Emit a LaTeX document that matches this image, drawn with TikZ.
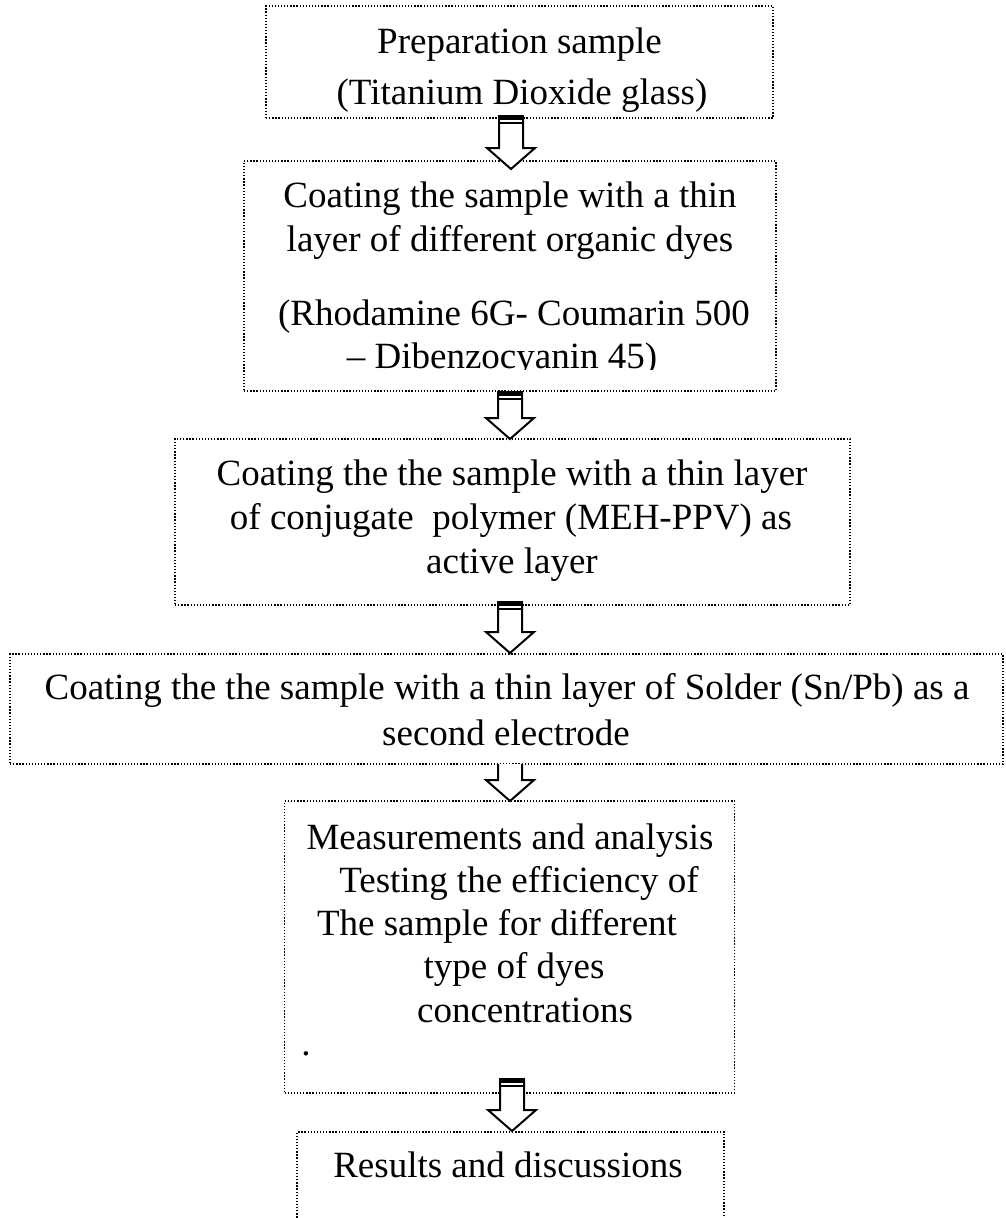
\documentclass[tikz,border=0pt]{standalone}
\usepackage{fontspec}
\setmainfont{Liberation Serif}
\begin{document}
\begin{tikzpicture}[x=1pt,y=-1pt,
  box/.style={draw=black, line width=1.3pt, dash pattern=on 1.3pt off 1.8pt, inner sep=0pt, fill=none},
  txt/.style={anchor=base, inner sep=0pt, font=\fontsize{37}{44}\selectfont},
  arrowline/.style={draw=black, line width=2pt, line join=miter, fill=white}]
\useasboundingbox (0,0) rectangle (1006,1218);
\newcommand{\barrow}[3]{% #1 x, #2 top, #3 tip
  \path[arrowline] (#1-12,#2) -- (#1-12,#3-21) -- (#1-24,#3-21) -- (#1,#3) -- (#1+24,#3-21) -- (#1+12,#3-21) -- (#1+12,#2);
  \fill[black] (#1-13,#2-1) rectangle (#1+13,#2+4);
  \draw[line width=2pt] (#1-12,#2+6.5) -- (#1+12,#2+6.5);
}
% boxes
\node[box, minimum width=507pt, minimum height=112pt] (b1) at (519.5,62) {};
\node[box, minimum width=532pt, minimum height=230pt] (b2) at (510,276) {};
\node[box, minimum width=675pt, minimum height=166pt] (b3) at (512.5,522) {};
\node[box, minimum width=993pt, minimum height=110pt] (b4) at (506.5,709) {};
\node[box, minimum width=450pt, minimum height=292pt] (b5) at (509.5,947) {};
\draw[box] (297,1230) -- (297,1132) -- (724,1132) -- (724,1230);
\coordinate (b6) at (510.5,1132);
% texts
\node[txt] (t1a) at (519.5,53) {Preparation sample};
\node[txt] (t1b) at (522,104) {(Titanium Dioxide glass)};
\node[txt] (t2a) at (510,207) {Coating the sample with a thin};
\node[txt] (t2b) at (510,251) {layer of different organic dyes};
\node[txt] (t2c) at (514,325) {(Rhodamine 6G- Coumarin 500};
\begin{scope}
  \clip (244,334) rectangle (776,369);
  \node[txt] (t2d) at (502,368) {– Dibenzocyanin 45)};
\end{scope}
\node[txt] (t3a) at (512,485) {Coating the the sample with a thin layer};
\node[txt] (t3b) at (511,529) {of conjugate\ \ polymer (MEH-PPV) as};
\node[txt] (t3c) at (512,573) {active layer};
\node[txt] (t4a) at (507,699) {Coating the the sample with a thin layer of Solder (Sn/Pb) as a};
\node[txt] (t4b) at (506,745) {second electrode};
\node[txt] (t5a) at (510,849) {Measurements and analysis};
\node[txt] (t5b) at (519,892) {Testing the efficiency of};
\node[txt] (t5c) at (497,935) {The sample for different};
\node[txt] (t5d) at (514,978) {type of dyes};
\node[txt] (t5e) at (525,1022) {concentrations};
\node[txt] (t5f) at (306,1055) {.};
\node[txt] (t6a) at (508,1177) {Results and discussions};
% arrows
\barrow{511}{116}{169}
\barrow{510}{392}{439}
\barrow{510}{602}{653}
\path[arrowline] (510-12,764) -- (510-12,801-21) -- (510-24,801-21) -- (510,801) -- (510+24,801-21) -- (510+12,801-21) -- (510+12,764);
\barrow{512}{1079}{1131}
\end{tikzpicture}
\end{document}
